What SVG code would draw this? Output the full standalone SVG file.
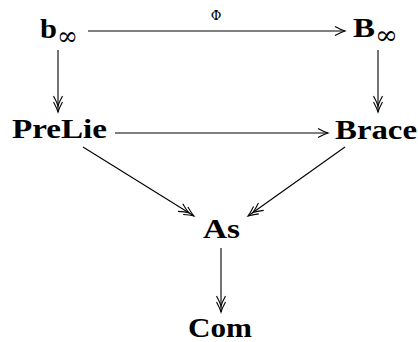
<svg xmlns="http://www.w3.org/2000/svg" width="418" height="342" viewBox="0 0 418 342">
  <style>
    .lbl { font-family: "Liberation Serif", "DejaVu Serif", serif; font-weight: bold; font-size: 27px; fill: #000; }
    .sub { font-family: "DejaVu Serif", "Liberation Serif", serif; font-weight: normal; font-size: 26px; fill: #000; }
    .small { font-family: "DejaVu Serif", "Liberation Serif", serif; font-size: 13px; fill: #000; }
    .edge { stroke: #000; stroke-width: 1.1; fill: none; }
  </style>
  <defs>
    <marker id="head" viewBox="-12 -6 14 12" markerWidth="14" markerHeight="12" refX="0" refY="0" orient="auto" markerUnits="userSpaceOnUse">
      <path d="M-10,-4.5 Q-4,-1.2 0,0 Q-4,1.2 -10,4.5" fill="none" stroke="#000" stroke-width="1.1"/>
    </marker>
    <marker id="head2" viewBox="-18 -6 20 12" markerWidth="20" markerHeight="12" refX="0" refY="0" orient="auto" markerUnits="userSpaceOnUse">
      <path d="M-10,-4.5 Q-4,-1.2 0,0 Q-4,1.2 -10,4.5 M-16,-4.5 Q-10,-1.2 -6,0 Q-10,1.2 -16,4.5" fill="none" stroke="#000" stroke-width="1.1"/>
    </marker>
  </defs>

  <g id="connectors">
    <line class="edge" x1="88" y1="31" x2="345" y2="31" marker-end="url(#head)"/>
    <text class="small" x="216" y="20" text-anchor="middle">Φ</text>
    <line class="edge" x1="58" y1="50" x2="58" y2="112" marker-end="url(#head2)"/>
    <line class="edge" x1="378" y1="50" x2="378" y2="112" marker-end="url(#head2)"/>
    <line class="edge" x1="115" y1="133" x2="328" y2="133" marker-end="url(#head)"/>
    <line class="edge" x1="83" y1="147" x2="194" y2="216" marker-end="url(#head2)"/>
    <line class="edge" x1="345" y1="147" x2="248" y2="216" marker-end="url(#head2)"/>
    <line class="edge" x1="221" y1="248" x2="221" y2="312" marker-end="url(#head2)"/>
  </g>

  <g id="b-infinity">
    <text class="lbl" x="40" y="38" textLength="17" lengthAdjust="spacingAndGlyphs">b</text>
    <text class="sub" x="57" y="45" textLength="21" lengthAdjust="spacingAndGlyphs">∞</text>
  </g>
  <g id="B-infinity">
    <text class="lbl" x="353" y="37" textLength="22" lengthAdjust="spacingAndGlyphs">B</text>
    <text class="sub" x="375" y="44" textLength="23" lengthAdjust="spacingAndGlyphs">∞</text>
  </g>
  <g id="PreLie">
    <text class="lbl" x="12" y="138" textLength="95" lengthAdjust="spacingAndGlyphs">PreLie</text>
  </g>
  <g id="Brace">
    <text class="lbl" x="335" y="139" textLength="82" lengthAdjust="spacingAndGlyphs">Brace</text>
  </g>
  <g id="As">
    <text class="lbl" x="203" y="238" textLength="37" lengthAdjust="spacingAndGlyphs">As</text>
  </g>
  <g id="Com">
    <text class="lbl" x="188" y="337" textLength="64" lengthAdjust="spacingAndGlyphs">Com</text>
  </g>
</svg>
